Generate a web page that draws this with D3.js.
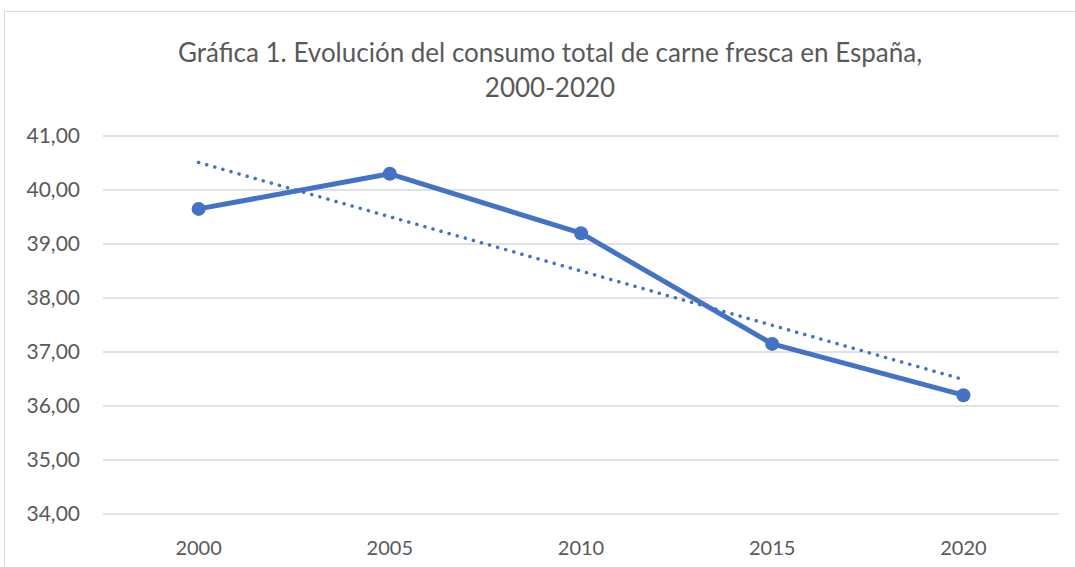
<!DOCTYPE html>
<html>
<head>
    <meta charset="utf-8">
    <style>
        html, body { margin: 0; padding: 0; background: #fff; }
        svg { display: block; }
        text { font-family: Lato, "Open Sans", sans-serif; fill: #595959; }
    </style>
    <script src="https://d3js.org/d3.v7.min.js"></script>
</head>
<body>
    <div id="chart"></div>
    <script>
        // data
        var years = ["2000", "2005", "2010", "2015", "2020"];
        var consumo = [39.65, 40.30, 39.20, 37.15, 36.20];
        var yTicks = [34, 35, 36, 37, 38, 39, 40, 41];
        var titleLines = ["Gráfica 1. Evolución del consumo total de carne fresca en España,", "2000-2020"];

        var width = 1075, height = 567;
        var margin = { top: 136, right: 16, bottom: 53, left: 103 };

        var svg = d3.select("#chart").append("svg")
            .attr("width", width)
            .attr("height", height);

        // chart area border
        svg.append("rect")
            .attr("x", 4.5).attr("y", 11.5)
            .attr("width", width + 10).attr("height", height + 10)
            .attr("fill", "none")
            .attr("stroke", "#d9d9d9");

        var x = d3.scaleBand()
            .domain(years)
            .range([margin.left, width - margin.right]);

        var y = d3.scaleLinear()
            .domain([34, 41])
            .range([height - margin.bottom, margin.top]);

        // gridlines
        svg.append("g")
            .selectAll("line")
            .data(yTicks)
            .join("line")
            .attr("x1", margin.left).attr("x2", width - margin.right)
            .attr("y1", d => y(d)).attr("y2", d => y(d))
            .attr("stroke", "#d9d9d9")
            .attr("stroke-width", 1.5);

        // y labels
        var fmt = d => d.toFixed(2).replace(".", ",");
        svg.append("g")
            .selectAll("text")
            .data(yTicks)
            .join("text")
            .attr("x", 80)
            .attr("y", d => y(d))
            .attr("dy", "0.35em")
            .attr("text-anchor", "end")
            .attr("font-size", 21)
            .text(fmt);

        // x labels
        svg.append("g")
            .selectAll("text")
            .data(years)
            .join("text")
            .attr("x", d => x(d) + x.bandwidth() / 2)
            .attr("y", 555)
            .attr("text-anchor", "middle")
            .attr("font-size", 20)
            .text(d => d);

        // linear trendline (least squares over category index)
        var n = consumo.length;
        var mx = d3.mean(consumo, (d, i) => i);
        var my = d3.mean(consumo);
        var slope = d3.sum(consumo, (d, i) => (i - mx) * (d - my)) / d3.sum(consumo, (d, i) => (i - mx) * (i - mx));
        var trend = [0, n - 1].map(i => ({ i: i, v: my + slope * (i - mx) }));

        svg.append("line")
            .attr("x1", x(years[trend[0].i]) + x.bandwidth() / 2)
            .attr("y1", y(trend[0].v))
            .attr("x2", x(years[trend[1].i]) + x.bandwidth() / 2)
            .attr("y2", y(trend[1].v))
            .attr("stroke", "#4472c4")
            .attr("stroke-width", 3.5)
            .attr("stroke-linecap", "round")
            .attr("stroke-dasharray", "0.1 8.3");

        // main line
        var line = d3.line()
            .x((d, i) => x(years[i]) + x.bandwidth() / 2)
            .y(d => y(d));

        svg.append("path")
            .datum(consumo)
            .attr("d", line)
            .attr("fill", "none")
            .attr("stroke", "#4472c4")
            .attr("stroke-width", 5)
            .attr("stroke-linejoin", "round");

        svg.append("g")
            .selectAll("circle")
            .data(consumo)
            .join("circle")
            .attr("cx", (d, i) => x(years[i]) + x.bandwidth() / 2)
            .attr("cy", d => y(d))
            .attr("r", 7)
            .attr("fill", "#4472c4");

        // title
        svg.append("g")
            .selectAll("text")
            .data(titleLines)
            .join("text")
            .attr("x", 550)
            .attr("y", (d, i) => 62 + i * 35)
            .attr("text-anchor", "middle")
            .attr("font-size", 26)
            .text(d => d);
    </script>
</body>
</html>
